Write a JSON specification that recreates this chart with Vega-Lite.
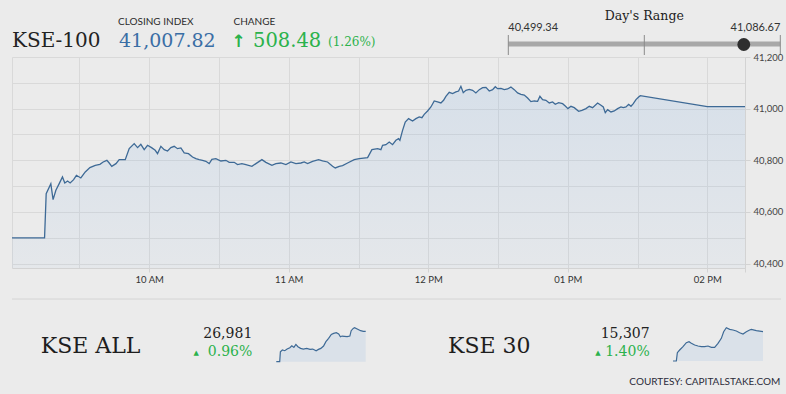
{
  "$schema": "https://vega.github.io/schema/vega-lite/v6.json",
  "background": "#ebebeb",
  "padding": {"left": 9, "top": 0, "right": 0, "bottom": 0},
  "bounds": "flush",
  "spacing": 0,
  "config": {"view": {"stroke": null}, "font": "Lato"},
  "datasets": {
    "kse100": [
      {"t": "2019-06-03T09:01:00", "v": 40499.34},
      {"t": "2019-06-03T09:15:00", "v": 40499.34},
      {"t": "2019-06-03T09:15:42", "v": 40670.9},
      {"t": "2019-06-03T09:17:42", "v": 40709.6},
      {"t": "2019-06-03T09:18:40", "v": 40647.7},
      {"t": "2019-06-03T09:19:52", "v": 40683.8},
      {"t": "2019-06-03T09:21:18", "v": 40709.6},
      {"t": "2019-06-03T09:22:42", "v": 40735.4},
      {"t": "2019-06-03T09:23:42", "v": 40712.2},
      {"t": "2019-06-03T09:24:54", "v": 40719.9},
      {"t": "2019-06-03T09:26:00", "v": 40712.2},
      {"t": "2019-06-03T09:27:30", "v": 40725.1},
      {"t": "2019-06-03T09:28:42", "v": 40741.9},
      {"t": "2019-06-03T09:30:36", "v": 40731.6},
      {"t": "2019-06-03T09:32:30", "v": 40754.8},
      {"t": "2019-06-03T09:34:30", "v": 40771.6},
      {"t": "2019-06-03T09:36:48", "v": 40780.6},
      {"t": "2019-06-03T09:38:48", "v": 40784.5},
      {"t": "2019-06-03T09:40:12", "v": 40793.5},
      {"t": "2019-06-03T09:41:48", "v": 40800.0},
      {"t": "2019-06-03T09:42:48", "v": 40789.6},
      {"t": "2019-06-03T09:43:54", "v": 40776.7},
      {"t": "2019-06-03T09:45:42", "v": 40787.1},
      {"t": "2019-06-03T09:47:06", "v": 40802.6},
      {"t": "2019-06-03T09:49:42", "v": 40802.6},
      {"t": "2019-06-03T09:51:24", "v": 40845.3},
      {"t": "2019-06-03T09:53:33", "v": 40864.5},
      {"t": "2019-06-03T09:55:00", "v": 40849.0},
      {"t": "2019-06-03T09:56:24", "v": 40861.9},
      {"t": "2019-06-03T09:57:51", "v": 40841.3},
      {"t": "2019-06-03T09:59:17", "v": 40858.1},
      {"t": "2019-06-03T10:01:00", "v": 40849.0},
      {"t": "2019-06-03T10:02:35", "v": 40838.7},
      {"t": "2019-06-03T10:03:35", "v": 40825.8},
      {"t": "2019-06-03T10:05:01", "v": 40854.2},
      {"t": "2019-06-03T10:06:27", "v": 40841.3},
      {"t": "2019-06-03T10:07:53", "v": 40836.1},
      {"t": "2019-06-03T10:09:19", "v": 40849.0},
      {"t": "2019-06-03T10:10:45", "v": 40854.2},
      {"t": "2019-06-03T10:12:11", "v": 40845.1},
      {"t": "2019-06-03T10:13:37", "v": 40847.7},
      {"t": "2019-06-03T10:15:03", "v": 40828.4},
      {"t": "2019-06-03T10:16:54", "v": 40825.8},
      {"t": "2019-06-03T10:18:38", "v": 40812.8},
      {"t": "2019-06-03T10:20:04", "v": 40806.4},
      {"t": "2019-06-03T10:21:30", "v": 40802.6},
      {"t": "2019-06-03T10:22:56", "v": 40800.0},
      {"t": "2019-06-03T10:24:22", "v": 40796.1},
      {"t": "2019-06-03T10:25:48", "v": 40787.1},
      {"t": "2019-06-03T10:26:57", "v": 40803.8},
      {"t": "2019-06-03T10:28:40", "v": 40806.4},
      {"t": "2019-06-03T10:30:49", "v": 40797.4},
      {"t": "2019-06-03T10:32:58", "v": 40800.0},
      {"t": "2019-06-03T10:34:24", "v": 40792.2},
      {"t": "2019-06-03T10:36:34", "v": 40792.2},
      {"t": "2019-06-03T10:37:59", "v": 40783.2},
      {"t": "2019-06-03T10:39:52", "v": 40787.1},
      {"t": "2019-06-03T10:41:35", "v": 40783.2},
      {"t": "2019-06-03T10:44:10", "v": 40776.7},
      {"t": "2019-06-03T10:45:53", "v": 40787.1},
      {"t": "2019-06-03T10:48:28", "v": 40802.6},
      {"t": "2019-06-03T10:50:11", "v": 40792.2},
      {"t": "2019-06-03T10:52:46", "v": 40780.6},
      {"t": "2019-06-03T10:54:29", "v": 40787.1},
      {"t": "2019-06-03T10:56:38", "v": 40789.6},
      {"t": "2019-06-03T10:58:47", "v": 40783.2},
      {"t": "2019-06-03T11:00:56", "v": 40793.5},
      {"t": "2019-06-03T11:03:05", "v": 40787.1},
      {"t": "2019-06-03T11:05:14", "v": 40789.6},
      {"t": "2019-06-03T11:06:40", "v": 40793.5},
      {"t": "2019-06-03T11:08:06", "v": 40787.1},
      {"t": "2019-06-03T11:10:15", "v": 40796.1},
      {"t": "2019-06-03T11:12:50", "v": 40802.6},
      {"t": "2019-06-03T11:14:33", "v": 40797.4},
      {"t": "2019-06-03T11:16:42", "v": 40793.5},
      {"t": "2019-06-03T11:18:51", "v": 40776.7},
      {"t": "2019-06-03T11:20:00", "v": 40770.3},
      {"t": "2019-06-03T11:21:43", "v": 40776.7},
      {"t": "2019-06-03T11:23:09", "v": 40779.3},
      {"t": "2019-06-03T11:25:18", "v": 40789.6},
      {"t": "2019-06-03T11:28:10", "v": 40802.6},
      {"t": "2019-06-03T11:30:19", "v": 40806.4},
      {"t": "2019-06-03T11:33:55", "v": 40810.3},
      {"t": "2019-06-03T11:35:46", "v": 40841.3},
      {"t": "2019-06-03T11:38:13", "v": 40845.1},
      {"t": "2019-06-03T11:39:38", "v": 40841.3},
      {"t": "2019-06-03T11:40:21", "v": 40858.1},
      {"t": "2019-06-03T11:41:47", "v": 40860.6},
      {"t": "2019-06-03T11:43:13", "v": 40870.9},
      {"t": "2019-06-03T11:44:39", "v": 40860.6},
      {"t": "2019-06-03T11:46:05", "v": 40877.4},
      {"t": "2019-06-03T11:47:14", "v": 40883.9},
      {"t": "2019-06-03T11:47:48", "v": 40877.4},
      {"t": "2019-06-03T11:48:57", "v": 40916.1},
      {"t": "2019-06-03T11:50:06", "v": 40948.4},
      {"t": "2019-06-03T11:51:32", "v": 40961.3},
      {"t": "2019-06-03T11:53:15", "v": 40952.3},
      {"t": "2019-06-03T11:54:41", "v": 40961.3},
      {"t": "2019-06-03T11:56:07", "v": 40967.8},
      {"t": "2019-06-03T11:57:16", "v": 40965.2},
      {"t": "2019-06-03T11:58:16", "v": 40978.1},
      {"t": "2019-06-03T11:59:42", "v": 40991.0},
      {"t": "2019-06-03T12:01:08", "v": 41006.5},
      {"t": "2019-06-03T12:02:34", "v": 41029.7},
      {"t": "2019-06-03T12:04:00", "v": 41025.8},
      {"t": "2019-06-03T12:05:26", "v": 41021.9},
      {"t": "2019-06-03T12:06:35", "v": 41032.3},
      {"t": "2019-06-03T12:07:35", "v": 41047.8},
      {"t": "2019-06-03T12:09:01", "v": 41063.3},
      {"t": "2019-06-03T12:10:28", "v": 41058.1},
      {"t": "2019-06-03T12:11:53", "v": 41064.6},
      {"t": "2019-06-03T12:13:02", "v": 41068.4},
      {"t": "2019-06-03T12:14:02", "v": 41086.67},
      {"t": "2019-06-03T12:15:03", "v": 41062.0},
      {"t": "2019-06-03T12:16:11", "v": 41071.0},
      {"t": "2019-06-03T12:17:38", "v": 41074.9},
      {"t": "2019-06-03T12:19:04", "v": 41071.0},
      {"t": "2019-06-03T12:20:29", "v": 41060.7},
      {"t": "2019-06-03T12:21:56", "v": 41073.6},
      {"t": "2019-06-03T12:23:22", "v": 41081.3},
      {"t": "2019-06-03T12:24:48", "v": 41082.6},
      {"t": "2019-06-03T12:26:14", "v": 41068.4},
      {"t": "2019-06-03T12:27:40", "v": 41073.6},
      {"t": "2019-06-03T12:28:49", "v": 41085.0},
      {"t": "2019-06-03T12:29:49", "v": 41077.5},
      {"t": "2019-06-03T12:31:15", "v": 41078.8},
      {"t": "2019-06-03T12:32:41", "v": 41073.6},
      {"t": "2019-06-03T12:34:07", "v": 41076.2},
      {"t": "2019-06-03T12:35:33", "v": 41083.9},
      {"t": "2019-06-03T12:36:59", "v": 41073.6},
      {"t": "2019-06-03T12:38:25", "v": 41060.7},
      {"t": "2019-06-03T12:39:51", "v": 41055.5},
      {"t": "2019-06-03T12:41:17", "v": 41052.9},
      {"t": "2019-06-03T12:42:43", "v": 41041.3},
      {"t": "2019-06-03T12:44:09", "v": 41027.1},
      {"t": "2019-06-03T12:45:35", "v": 41029.7},
      {"t": "2019-06-03T12:47:01", "v": 41028.4},
      {"t": "2019-06-03T12:48:01", "v": 41047.8},
      {"t": "2019-06-03T12:49:10", "v": 41034.9},
      {"t": "2019-06-03T12:50:36", "v": 41032.3},
      {"t": "2019-06-03T12:52:02", "v": 41022.0},
      {"t": "2019-06-03T12:53:28", "v": 41025.8},
      {"t": "2019-06-03T12:54:37", "v": 41016.8},
      {"t": "2019-06-03T12:56:03", "v": 41023.3},
      {"t": "2019-06-03T12:57:46", "v": 41019.4},
      {"t": "2019-06-03T12:58:55", "v": 41010.4},
      {"t": "2019-06-03T13:00:04", "v": 41000.1},
      {"t": "2019-06-03T13:01:21", "v": 41009.1},
      {"t": "2019-06-03T13:02:47", "v": 41003.9},
      {"t": "2019-06-03T13:04:39", "v": 40989.7},
      {"t": "2019-06-03T13:06:05", "v": 40993.6},
      {"t": "2019-06-03T13:07:49", "v": 41000.1},
      {"t": "2019-06-03T13:09:14", "v": 41009.1},
      {"t": "2019-06-03T13:10:40", "v": 41003.9},
      {"t": "2019-06-03T13:12:49", "v": 41022.0},
      {"t": "2019-06-03T13:14:16", "v": 41012.9},
      {"t": "2019-06-03T13:15:16", "v": 41006.5},
      {"t": "2019-06-03T13:16:07", "v": 40984.5},
      {"t": "2019-06-03T13:17:08", "v": 40996.2},
      {"t": "2019-06-03T13:18:34", "v": 40987.1},
      {"t": "2019-06-03T13:19:59", "v": 40991.0},
      {"t": "2019-06-03T13:21:26", "v": 41000.1},
      {"t": "2019-06-03T13:22:52", "v": 41006.5},
      {"t": "2019-06-03T13:23:52", "v": 41003.9},
      {"t": "2019-06-03T13:25:01", "v": 41006.5},
      {"t": "2019-06-03T13:26:10", "v": 41016.8},
      {"t": "2019-06-03T13:27:10", "v": 41009.1},
      {"t": "2019-06-03T13:28:10", "v": 41019.4},
      {"t": "2019-06-03T13:29:19", "v": 41034.9},
      {"t": "2019-06-03T13:30:28", "v": 41045.2},
      {"t": "2019-06-03T13:31:10", "v": 41050.4},
      {"t": "2019-06-03T14:00:00", "v": 41007.82},
      {"t": "2019-06-03T14:16:12", "v": 41007.82}
    ],
    "kseall": [
      {"t": "2019-06-03T09:01:00", "v": 26724.4},
      {"t": "2019-06-03T09:13:00", "v": 26724.4},
      {"t": "2019-06-03T09:15:24", "v": 26808.8},
      {"t": "2019-06-03T09:22:30", "v": 26822.9},
      {"t": "2019-06-03T09:30:54", "v": 26817.2},
      {"t": "2019-06-03T09:39:12", "v": 26831.3},
      {"t": "2019-06-03T09:48:42", "v": 26842.5},
      {"t": "2019-06-03T09:55:48", "v": 26859.4},
      {"t": "2019-06-03T10:03:00", "v": 26845.4},
      {"t": "2019-06-03T10:10:06", "v": 26870.7},
      {"t": "2019-06-03T10:17:12", "v": 26851.0},
      {"t": "2019-06-03T10:26:42", "v": 26836.9},
      {"t": "2019-06-03T10:36:12", "v": 26831.3},
      {"t": "2019-06-03T10:48:06", "v": 26836.9},
      {"t": "2019-06-03T11:00:00", "v": 26828.5},
      {"t": "2019-06-03T11:09:30", "v": 26831.3},
      {"t": "2019-06-03T11:21:24", "v": 26817.2},
      {"t": "2019-06-03T11:29:42", "v": 26828.5},
      {"t": "2019-06-03T11:38:00", "v": 26836.9},
      {"t": "2019-06-03T11:47:36", "v": 26856.6},
      {"t": "2019-06-03T11:55:54", "v": 26893.2},
      {"t": "2019-06-03T12:05:24", "v": 26921.3},
      {"t": "2019-06-03T12:14:54", "v": 26955.1},
      {"t": "2019-06-03T12:23:12", "v": 26963.5},
      {"t": "2019-06-03T12:32:42", "v": 26969.1},
      {"t": "2019-06-03T12:41:00", "v": 26957.9},
      {"t": "2019-06-03T12:47:00", "v": 26935.4},
      {"t": "2019-06-03T12:52:54", "v": 26941.0},
      {"t": "2019-06-03T13:01:12", "v": 26938.2},
      {"t": "2019-06-03T13:10:48", "v": 26935.4},
      {"t": "2019-06-03T13:20:18", "v": 26941.0},
      {"t": "2019-06-03T13:25:00", "v": 26986.0},
      {"t": "2019-06-03T13:32:12", "v": 27005.7},
      {"t": "2019-06-03T13:36:54", "v": 27011.3},
      {"t": "2019-06-03T13:46:24", "v": 27000.1},
      {"t": "2019-06-03T13:58:18", "v": 26986.0},
      {"t": "2019-06-03T14:07:48", "v": 26981.0},
      {"t": "2019-06-03T14:16:12", "v": 26981.0}
    ],
    "kse30": [
      {"t": "2019-06-03T09:01:00", "v": 15095.7},
      {"t": "2019-06-03T09:12:42", "v": 15095.7},
      {"t": "2019-06-03T09:16:12", "v": 15155.7},
      {"t": "2019-06-03T09:24:18", "v": 15174.9},
      {"t": "2019-06-03T09:36:00", "v": 15199.0},
      {"t": "2019-06-03T09:47:42", "v": 15227.8},
      {"t": "2019-06-03T09:57:00", "v": 15235.0},
      {"t": "2019-06-03T10:05:12", "v": 15223.0},
      {"t": "2019-06-03T10:16:54", "v": 15210.9},
      {"t": "2019-06-03T10:28:36", "v": 15203.7},
      {"t": "2019-06-03T10:40:12", "v": 15199.0},
      {"t": "2019-06-03T10:51:54", "v": 15199.0},
      {"t": "2019-06-03T11:03:36", "v": 15203.7},
      {"t": "2019-06-03T11:15:18", "v": 15194.1},
      {"t": "2019-06-03T11:26:54", "v": 15194.1},
      {"t": "2019-06-03T11:38:36", "v": 15223.0},
      {"t": "2019-06-03T11:50:18", "v": 15259.0},
      {"t": "2019-06-03T11:58:24", "v": 15307.0},
      {"t": "2019-06-03T12:07:48", "v": 15335.8},
      {"t": "2019-06-03T12:19:30", "v": 15323.8},
      {"t": "2019-06-03T12:31:06", "v": 15319.0},
      {"t": "2019-06-03T12:42:48", "v": 15311.8},
      {"t": "2019-06-03T12:54:30", "v": 15299.8},
      {"t": "2019-06-03T13:06:12", "v": 15290.2},
      {"t": "2019-06-03T13:17:48", "v": 15307.0},
      {"t": "2019-06-03T13:29:30", "v": 15319.0},
      {"t": "2019-06-03T13:35:18", "v": 15323.8},
      {"t": "2019-06-03T13:52:54", "v": 15314.2},
      {"t": "2019-06-03T14:16:12", "v": 15307.0}
    ]
  },
  "vconcat": [
    {
      "width": 777,
      "height": 57,
      "layer": [
        {"data": {"values": [{"label": "KSE-100"}]}, "mark": {"type": "text", "x": 0, "y": 47, "align": "left", "baseline": "alphabetic", "font": "DejaVu Serif", "fontSize": 20, "color": "#222222"}, "encoding": {"text": {"field": "label"}}},
        {"data": {"values": [{"label": "CLOSING INDEX"}]}, "mark": {"type": "text", "x": 106, "y": 25, "align": "left", "baseline": "alphabetic", "font": "Lato", "fontSize": 10, "color": "#2b2b2b"}, "encoding": {"text": {"field": "label"}}},
        {"data": {"values": [{"label": "41,007.82"}]}, "mark": {"type": "text", "x": 107, "y": 47, "align": "left", "baseline": "alphabetic", "font": "DejaVu Serif", "fontSize": 19, "color": "#3a6ea5"}, "encoding": {"text": {"field": "label"}}},
        {"data": {"values": [{"label": "CHANGE"}]}, "mark": {"type": "text", "x": 221.5, "y": 25, "align": "left", "baseline": "alphabetic", "font": "Lato", "fontSize": 10, "color": "#2b2b2b"}, "encoding": {"text": {"field": "label"}}},
        {"data": {"values": [{"label": "↑"}]}, "mark": {"type": "text", "x": 219.5, "y": 47, "align": "left", "baseline": "alphabetic", "font": "DejaVu Sans", "fontWeight": "bold", "fontSize": 17, "color": "#2bb24c"}, "encoding": {"text": {"field": "label"}}},
        {"data": {"values": [{"label": "508.48"}]}, "mark": {"type": "text", "x": 241, "y": 47, "align": "left", "baseline": "alphabetic", "font": "DejaVu Serif", "fontSize": 19.5, "color": "#2bb24c"}, "encoding": {"text": {"field": "label"}}},
        {"data": {"values": [{"label": "(1.26%)"}]}, "mark": {"type": "text", "x": 316, "y": 46, "align": "left", "baseline": "alphabetic", "font": "DejaVu Serif", "fontSize": 12, "color": "#2bb24c"}, "encoding": {"text": {"field": "label"}}},
        {"data": {"values": [{"low": 40499.34, "high": 41086.67}]}, "mark": {"type": "rule", "strokeWidth": 5, "color": "#a8a8a8", "strokeCap": "butt"},
         "encoding": {"x": {"field": "low", "type": "quantitative", "scale": {"domain": [40499.34, 41086.67], "range": [496.3, 768.3], "zero": false, "nice": false}, "axis": null}, "x2": {"field": "high"}, "y": {"value": 44}}},
        {"data": {"values": [{"v": 40499.34}, {"v": 40793.0}, {"v": 41086.67}]}, "mark": {"type": "rule", "strokeWidth": 1, "color": "#8a8a8a"},
         "encoding": {"x": {"field": "v", "type": "quantitative", "scale": {"domain": [40499.34, 41086.67], "range": [496.3, 768.3], "zero": false, "nice": false}, "axis": null}, "y": {"value": 35}, "y2": {"value": 55}}},
        {"data": {"values": [{"close": 41007.82}]}, "mark": {"type": "point", "filled": true, "opacity": 1, "size": 165, "color": "#2e2e2e"},
         "encoding": {"x": {"field": "close", "type": "quantitative", "scale": {"domain": [40499.34, 41086.67], "range": [496.3, 768.3], "zero": false, "nice": false}, "axis": null}, "y": {"value": 44.5}}},
        {"data": {"values": [{"low": 40499.34}]}, "mark": {"type": "text", "align": "left", "baseline": "alphabetic", "font": "Lato", "fontSize": 11, "color": "#333333"},
         "encoding": {"x": {"field": "low", "type": "quantitative", "scale": {"domain": [40499.34, 41086.67], "range": [496.3, 768.3], "zero": false, "nice": false}, "axis": null}, "y": {"value": 31}, "text": {"field": "low", "format": ",.2f"}}},
        {"data": {"values": [{"high": 41086.67}]}, "mark": {"type": "text", "align": "right", "baseline": "alphabetic", "font": "Lato", "fontSize": 11, "color": "#333333"},
         "encoding": {"x": {"field": "high", "type": "quantitative", "scale": {"domain": [40499.34, 41086.67], "range": [496.3, 768.3], "zero": false, "nice": false}, "axis": null}, "y": {"value": 31}, "text": {"field": "high", "format": ",.2f"}}},
        {"data": {"values": [{"label": "Day's Range", "mid": 40793.0}]}, "mark": {"type": "text", "align": "center", "baseline": "alphabetic", "font": "DejaVu Serif", "fontSize": 12.5, "color": "#222222"},
         "encoding": {"x": {"field": "mid", "type": "quantitative", "scale": {"domain": [40499.34, 41086.67], "range": [496.3, 768.3], "zero": false, "nice": false}, "axis": null}, "y": {"value": 20}, "text": {"field": "label"}}}
      ]
    },
    {
      "width": 733,
      "height": 211,
      "data": {"name": "kse100"},
      "layer": [
        {
          "mark": {"type": "area", "color": {"gradient": "linear", "x1": 0, "y1": 0, "x2": 0, "y2": 1, "stops": [{"offset": 0, "color": "rgba(124,172,226,0.18)"}, {"offset": 1, "color": "rgba(124,172,226,0.06)"}]}},
          "encoding": {
            "x": {"field": "t", "type": "temporal",
              "scale": {"domain": [{"year": 2019, "month": 6, "date": 3, "hours": 9, "minutes": 1}, {"year": 2019, "month": 6, "date": 3, "hours": 14, "minutes": 16, "seconds": 12}]},
              "axis": {"orient": "top", "title": null, "labels": false, "ticks": false, "domain": false, "grid": true, "gridColor": "#d9d9d9", "gridOpacity": 1, "gridWidth": 1,
                "values": [
                  {"year": 2019, "month": 6, "date": 3, "hours": 9, "minutes": 1},
                  {"year": 2019, "month": 6, "date": 3, "hours": 9, "minutes": 30},
                  {"year": 2019, "month": 6, "date": 3, "hours": 10, "minutes": 0},
                  {"year": 2019, "month": 6, "date": 3, "hours": 10, "minutes": 30},
                  {"year": 2019, "month": 6, "date": 3, "hours": 11, "minutes": 0},
                  {"year": 2019, "month": 6, "date": 3, "hours": 11, "minutes": 30},
                  {"year": 2019, "month": 6, "date": 3, "hours": 12, "minutes": 0},
                  {"year": 2019, "month": 6, "date": 3, "hours": 12, "minutes": 30},
                  {"year": 2019, "month": 6, "date": 3, "hours": 13, "minutes": 0},
                  {"year": 2019, "month": 6, "date": 3, "hours": 13, "minutes": 30},
                  {"year": 2019, "month": 6, "date": 3, "hours": 14, "minutes": 0},
                  {"year": 2019, "month": 6, "date": 3, "hours": 14, "minutes": 16, "seconds": 12}
                ]}},
            "y": {"field": "v", "type": "quantitative",
              "scale": {"domain": [40383, 41200], "zero": false, "nice": false},
              "axis": {"orient": "left", "title": null, "labels": false, "ticks": false, "domain": false, "grid": true, "gridColor": "#d9d9d9", "gridOpacity": 1, "gridWidth": 1,
                "values": [40400, 40500, 40600, 40700, 40800, 40900, 41000, 41100, 41200]}},
            "y2": {"datum": 40383}
          }
        },
        {
          "mark": {"type": "line", "color": "#3e6a96", "strokeWidth": 1.3},
          "encoding": {
            "x": {"field": "t", "type": "temporal",
              "scale": {"domain": [{"year": 2019, "month": 6, "date": 3, "hours": 9, "minutes": 1}, {"year": 2019, "month": 6, "date": 3, "hours": 14, "minutes": 16, "seconds": 12}]},
              "axis": {"orient": "bottom", "title": null, "grid": false, "domain": true, "domainColor": "#d3d3d3", "tickColor": "#d3d3d3", "tickSize": 4, "labelPadding": 2,
                "labelFont": "Lato", "labelFontSize": 9.5, "labelColor": "#333333", "labelOverlap": false, "labelFlush": false,
                "labelExpr": "minutes(datum.value) == 0 ? timeFormat(datum.value, '%I %p') : ''",
                "values": [
                  {"year": 2019, "month": 6, "date": 3, "hours": 10, "minutes": 0},
                  {"year": 2019, "month": 6, "date": 3, "hours": 11, "minutes": 0},
                  {"year": 2019, "month": 6, "date": 3, "hours": 12, "minutes": 0},
                  {"year": 2019, "month": 6, "date": 3, "hours": 13, "minutes": 0},
                  {"year": 2019, "month": 6, "date": 3, "hours": 14, "minutes": 0},
                  {"year": 2019, "month": 6, "date": 3, "hours": 14, "minutes": 16, "seconds": 12}
                ]}},
            "y": {"field": "v", "type": "quantitative",
              "scale": {"domain": [40383, 41200], "zero": false, "nice": false},
              "axis": {"orient": "right", "title": null, "grid": false, "domain": true, "domainColor": "#d3d3d3", "tickColor": "#d3d3d3", "tickSize": 5, "labelPadding": 3,
                "labelFont": "Lato", "labelFontSize": 9.5, "labelColor": "#444444", "labelOverlap": false, "labelFlush": false, "format": ",d",
                "values": [40400, 40600, 40800, 41000, 41200]}}
          }
        }
      ],
      "resolve": {"axis": {"x": "independent", "y": "independent"}}
    },
    {
      "width": 777,
      "height": 126,
      "layer": [
        {"data": {"values": [{"sep": "line"}]}, "mark": {"type": "rule", "color": "#d4d4d4", "strokeWidth": 1}, "encoding": {"x": {"value": 0}, "x2": {"value": 769}, "y": {"value": 31}}},
        {"data": {"values": [{"label": "KSE ALL"}]}, "mark": {"type": "text", "x": 28.7, "y": 84.5, "align": "left", "baseline": "alphabetic", "font": "DejaVu Serif", "fontSize": 22, "color": "#1e1e1e"}, "encoding": {"text": {"field": "label"}}},
        {"data": {"values": [{"label": "26,981"}]}, "mark": {"type": "text", "x": 240.3, "y": 70.3, "align": "right", "baseline": "alphabetic", "font": "DejaVu Serif", "fontSize": 14, "color": "#222222"}, "encoding": {"text": {"field": "label"}}},
        {"data": {"values": [{"label": "0.96%"}]}, "mark": {"type": "text", "x": 240.3, "y": 88, "align": "right", "baseline": "alphabetic", "font": "DejaVu Serif", "fontSize": 14, "color": "#2bb24c"}, "encoding": {"text": {"field": "label"}}},
        {"data": {"values": [{"label": "▲"}]}, "mark": {"type": "text", "x": 184.3, "y": 85, "align": "center", "baseline": "middle", "font": "DejaVu Sans", "fontSize": 7, "color": "#2bb24c"}, "encoding": {"text": {"field": "label"}}},
        {"data": {"values": [{"label": "KSE 30"}]}, "mark": {"type": "text", "x": 436, "y": 84.5, "align": "left", "baseline": "alphabetic", "font": "DejaVu Serif", "fontSize": 22, "color": "#1e1e1e"}, "encoding": {"text": {"field": "label"}}},
        {"data": {"values": [{"label": "15,307"}]}, "mark": {"type": "text", "x": 637.7, "y": 70.3, "align": "right", "baseline": "alphabetic", "font": "DejaVu Serif", "fontSize": 14, "color": "#222222"}, "encoding": {"text": {"field": "label"}}},
        {"data": {"values": [{"label": "1.40%"}]}, "mark": {"type": "text", "x": 637.7, "y": 88, "align": "right", "baseline": "alphabetic", "font": "DejaVu Serif", "fontSize": 14, "color": "#2bb24c"}, "encoding": {"text": {"field": "label"}}},
        {"data": {"values": [{"label": "▲"}]}, "mark": {"type": "text", "x": 586, "y": 85, "align": "center", "baseline": "middle", "font": "DejaVu Sans", "fontSize": 7, "color": "#2bb24c"}, "encoding": {"text": {"field": "label"}}},
        {"data": {"values": [{"label": "COURTESY: CAPITALSTAKE.COM"}]}, "mark": {"type": "text", "x": 768.3, "y": 113.7, "align": "right", "baseline": "middle", "font": "Lato", "fontSize": 10, "color": "#2b2b3a"}, "encoding": {"text": {"field": "label"}}},
        {
          "data": {"name": "kseall"},
          "layer": [
            {"mark": {"type": "area", "color": "#dae1e9"},
             "encoding": {
               "x": {"field": "t", "type": "temporal", "scale": {"domain": [{"year": 2019, "month": 6, "date": 3, "hours": 9, "minutes": 1}, {"year": 2019, "month": 6, "date": 3, "hours": 14, "minutes": 16, "seconds": 12}], "range": [264.3, 353.7]}, "axis": null},
               "y": {"field": "v", "type": "quantitative", "scale": {"domain": [26724.4, 27011.4], "range": [93.7, 59.7], "zero": false, "nice": false}, "axis": null},
               "y2": {"datum": 26724.4}}},
            {"mark": {"type": "line", "color": "#3e6a96", "strokeWidth": 1.2},
             "encoding": {
               "x": {"field": "t", "type": "temporal", "scale": {"domain": [{"year": 2019, "month": 6, "date": 3, "hours": 9, "minutes": 1}, {"year": 2019, "month": 6, "date": 3, "hours": 14, "minutes": 16, "seconds": 12}], "range": [264.3, 353.7]}, "axis": null},
               "y": {"field": "v", "type": "quantitative", "scale": {"domain": [26724.4, 27011.4], "range": [93.7, 59.7], "zero": false, "nice": false}, "axis": null}}}
          ]
        },
        {
          "data": {"name": "kse30"},
          "layer": [
            {"mark": {"type": "area", "color": "#dae1e9"},
             "encoding": {
               "x": {"field": "t", "type": "temporal", "scale": {"domain": [{"year": 2019, "month": 6, "date": 3, "hours": 9, "minutes": 1}, {"year": 2019, "month": 6, "date": 3, "hours": 14, "minutes": 16, "seconds": 12}], "range": [661, 751]}, "axis": null},
               "y": {"field": "v", "type": "quantitative", "scale": {"domain": [15095.7, 15335.8], "range": [93, 59.7], "zero": false, "nice": false}, "axis": null},
               "y2": {"datum": 15095.7}}},
            {"mark": {"type": "line", "color": "#3e6a96", "strokeWidth": 1.2},
             "encoding": {
               "x": {"field": "t", "type": "temporal", "scale": {"domain": [{"year": 2019, "month": 6, "date": 3, "hours": 9, "minutes": 1}, {"year": 2019, "month": 6, "date": 3, "hours": 14, "minutes": 16, "seconds": 12}], "range": [661, 751]}, "axis": null},
               "y": {"field": "v", "type": "quantitative", "scale": {"domain": [15095.7, 15335.8], "range": [93, 59.7], "zero": false, "nice": false}, "axis": null}}}
          ]
        }
      ],
      "resolve": {"scale": {"x": "independent", "y": "independent"}}
    }
  ]
}
